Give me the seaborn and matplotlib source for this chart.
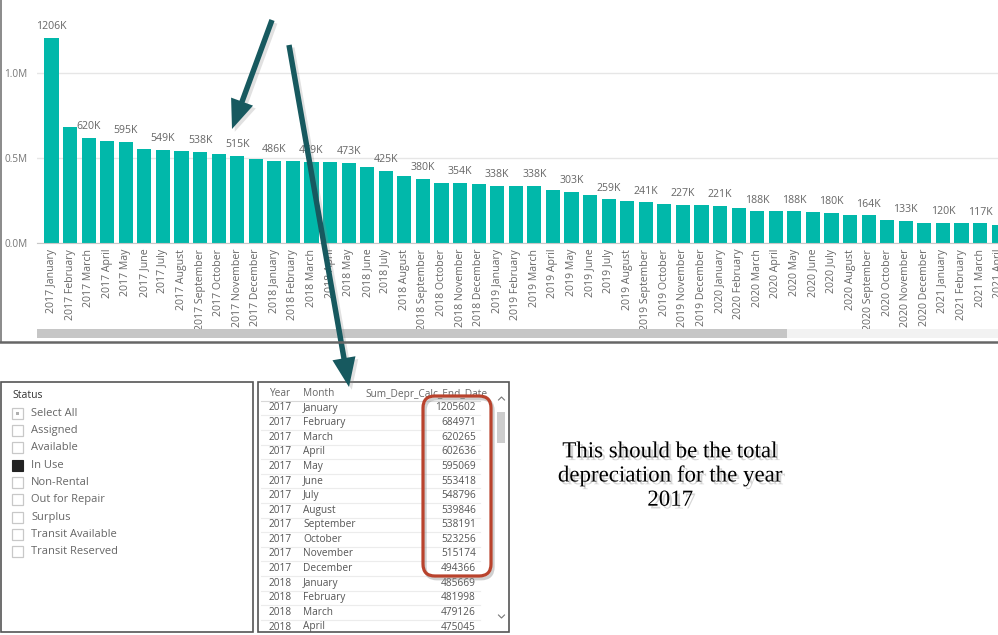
import pandas as pd
import seaborn as sns
import matplotlib.pyplot as plt
import matplotlib.patheffects as pe
from matplotlib.patches import Rectangle, FancyBboxPatch, FancyArrowPatch

# data
months = ['January', 'February', 'March', 'April', 'May', 'June', 'July',
          'August', 'September', 'October', 'November', 'December']
years = [2017, 2018, 2019, 2020, 2021]
periods = [f'{y} {m}' for y in years for m in months][:52]

table_years = [2017] * 12 + [2018] * 4
table_months = months + months[:4]
table_values = [1205602, 684971, 620265, 602636, 595069, 553418, 548796, 539846,
                538191, 523256, 515174, 494366, 485669, 481998, 479126, 475045]
rest_values = [473000, 449000, 425000, 397000, 380000, 357000, 354000, 346000,
               338000, 338000, 338000, 315000, 303000, 283000, 259000, 246000,
               241000, 230000, 227000, 224000, 221000, 206000, 188000, 188000,
               188000, 182000, 180000, 166000, 164000, 138000, 133000, 120000,
               120000, 119000, 117000, 110000]
values = table_values + rest_values

statuses = ['Select All', 'Assigned', 'Available', 'In Use', 'Non-Rental',
            'Out for Repair', 'Surplus', 'Transit Available', 'Transit Reserved']
checked = 'In Use'
note = 'This should be the total\ndepreciation for the year\n2017'

plt.rcParams['font.family'] = ['Open Sans', 'DejaVu Sans']

W, H = 998, 635
fig = plt.figure(figsize=(W / 100, H / 100), dpi=100)
fig.patch.set_facecolor('white')


def px_axes(x0, y0, x1, y1):
    return fig.add_axes([x0 / W, 1 - y1 / H, (x1 - x0) / W, (y1 - y0) / H])


# bar chart
ax = px_axes(37, 4.9, 1002.3, 243.3)
df = pd.DataFrame({'period': periods, 'value': values})
sns.barplot(data=df, x='period', y='value', color='#01B8AA', saturation=1,
            width=0.76, ax=ax)
ax.set_xlim(-0.78, 51.2)
ax.set_ylim(0, 1.4e6)
ax.set_yticks([0, 0.5e6, 1.0e6])
ax.set_yticklabels(['0.0M', '0.5M', '1.0M'])
ax.set_xlabel('')
ax.set_ylabel('')
ax.grid(axis='y', color='#e6e6e6', lw=1)
ax.set_axisbelow(True)
for s in ['top', 'right', 'left']:
    ax.spines[s].set_visible(False)
ax.spines['bottom'].set_color('#c8c8c8')
ax.tick_params(axis='y', length=0, pad=7, labelsize=7.2, labelcolor='#777777')
ax.tick_params(axis='x', length=0, pad=4, labelsize=7.6, labelcolor='#666666',
               labelrotation=90)
for i, v in enumerate(values):
    if i % 2 == 0:
        ax.annotate(f'{v / 1000:.0f}K', (i, v), xytext=(0, 4), textcoords='offset points',
                    ha='center', va='bottom', fontsize=7.6, color='#666666')

# table
tab = px_axes(258, 382, 508, 632)
tab.set_xlim(258, 508)
tab.set_ylim(632, 382)
tab.axis('off')
tab.text(269, 394, 'Year', fontsize=7.3, color='#666666', va='center', clip_on=True)
tab.text(303, 394, 'Month', fontsize=7.3, color='#666666', va='center', clip_on=True)
tab.text(365, 394, 'Sum_Depr_Calc_End_Date', fontsize=7.3, color='#666666',
         va='center', clip_on=True)
tab.plot([261, 480], [401, 401], color='#d8d8d8', lw=0.8)
for i, (y, m, v) in enumerate(zip(table_years, table_months, table_values)):
    yy = 408 + i * 14.6
    tab.text(269, yy, str(y), fontsize=7.3, color='#555555', va='center', clip_on=True)
    tab.text(303, yy, m, fontsize=7.3, color='#555555', va='center', clip_on=True)
    tab.text(476, yy, str(v), fontsize=7.3, color='#555555', va='center', ha='right',
             clip_on=True)
    tab.plot([261, 480], [yy + 7.3, yy + 7.3], color='#ececec', lw=0.8)

# overlay for panels, arrows and notes
ov = fig.add_axes([0, 0, 1, 1])
ov.set_xlim(0, W)
ov.set_ylim(H, 0)
ov.axis('off')
ov.patch.set_alpha(0)

# top panel frame + scrollbar
ov.plot([1, 1], [0, 342], color='#777777', lw=1.2)
ov.plot([0, W], [342, 342], color='#666666', lw=1.8)
ov.add_patch(Rectangle((37, 329), W - 37, 9, color='#f2f2f2', lw=0))
ov.add_patch(Rectangle((37, 329), 750, 9, color='#c6c6c6', lw=0))

# slicer panel
ov.add_patch(Rectangle((1, 382), 252, 250, fill=False, ec='#555555', lw=1.2))
ov.text(12, 395, 'Status', fontsize=7.5, color='#333333', va='center')
for i, s in enumerate(statuses):
    yy = 413 + i * 17.35
    if s == checked:
        ov.add_patch(Rectangle((12, yy - 5.5), 11, 11, fc='#222222', ec='#222222', lw=0.8))
    else:
        ov.add_patch(Rectangle((12, yy - 5.5), 11, 11, fc='white', ec='#c8c8c8', lw=0.9))
    if s == 'Select All':
        ov.add_patch(Rectangle((16, yy - 1.5), 3, 3, fc='#b0b0b0', lw=0))
    ov.text(31, yy, s, fontsize=8, color='#666666', va='center')

# table panel frame + scrollbar
ov.add_patch(Rectangle((258, 382), 251, 250, fill=False, ec='#555555', lw=1.2))
ov.add_patch(Rectangle((497, 412), 8, 31, color='#cdcdcd', lw=0))
ov.plot([498.5, 501.5, 504.5], [400, 397, 400], color='#777777', lw=0.8)
ov.plot([498.5, 501.5, 504.5], [615, 618, 615], color='#777777', lw=0.8)

# red highlight
red = FancyBboxPatch((423, 396), 68, 180, boxstyle='round,pad=0,rounding_size=12',
                     fill=False, ec='#b9432d', lw=2.3)
red.set_path_effects([pe.SimpleLineShadow(offset=(1.5, -2), shadow_color='#888888',
                                          alpha=0.4), pe.Normal()])
ov.add_patch(red)

# note text
ov.text(670, 476, note, family='Liberation Serif', fontsize=16.5, color='black',
        ha='center', va='center', linespacing=1.2,
        path_effects=[pe.withSimplePatchShadow(offset=(2, -2), shadow_rgbFace='#999999',
                                               alpha=0.4)])

# arrows
for (x0, y0), (x1, y1) in [((272, 20), (232, 129)), ((289, 45), (349, 387))]:
    arr = FancyArrowPatch((x0, y0), (x1, y1),
                          arrowstyle='simple,head_length=1.5,head_width=1.2,tail_width=0.28',
                          mutation_scale=14, color='#17595f', lw=0,
                          shrinkA=0, shrinkB=0)
    arr.set_path_effects([pe.SimplePatchShadow(offset=(2, -2), shadow_rgbFace='#888888',
                                               alpha=0.25), pe.Normal()])
    ov.add_patch(arr)

fig.savefig('out.png', dpi=100)
